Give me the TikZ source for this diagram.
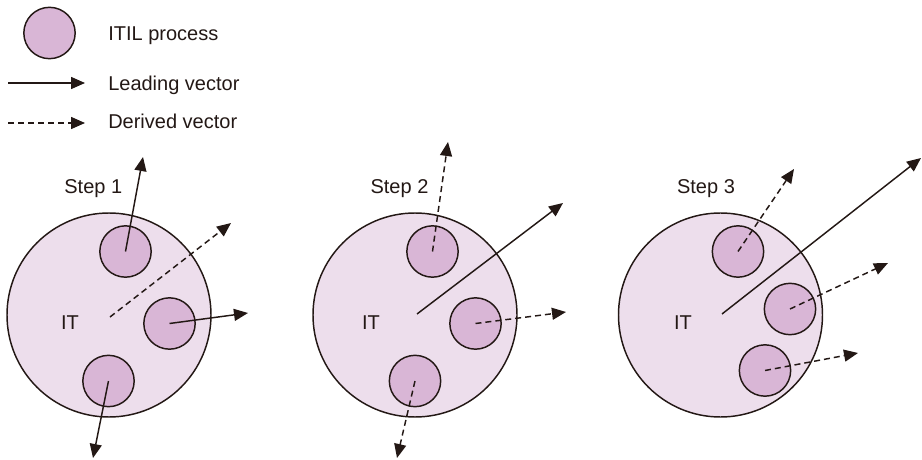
\documentclass[tikz,border=0pt]{standalone}
\usepackage{fontspec}
\setmainfont{Liberation Sans}
\usetikzlibrary{arrows.meta}
\definecolor{ink}{HTML}{231815}
\definecolor{bigfill}{HTML}{EDDEEC}
\definecolor{smallfill}{HTML}{D9B6D6}
\begin{document}
\begin{tikzpicture}[x=0.75pt,y=-0.75pt,
  lbl/.style={font=\fontsize{15}{18}\selectfont, text=ink, inner sep=0pt},
  bigc/.style={circle, draw=ink, fill=bigfill, line width=1.1pt, minimum size=153pt, inner sep=0pt},
  smallc/.style={circle, draw=ink, fill=smallfill, line width=1.1pt, minimum size=38.5pt, inner sep=0pt},
  lead/.style={draw=ink, line width=1.1pt, -{Triangle[length=10.5pt,width=9pt]}},
  derived/.style={lead, dash pattern=on 4.5pt off 3pt}
]
\useasboundingbox (0,0) rectangle (922,460);
% legend
\node[smallc] (legc) at (49.5,33) {};
\node[lbl, anchor=base west] (legt1) at (108,41) {ITIL process};
\coordinate (l1a) at (8,83); \coordinate (l1b) at (85,83);
\node[lbl, anchor=base west] (legt2) at (108,91) {Leading vector};
\coordinate (l2a) at (8,123); \coordinate (l2b) at (85,123);
\node[lbl, anchor=base west] (legt3) at (108,129) {Derived vector};
\draw[lead] (l1a) -- (l1b);
\draw[derived] (l2a) -- (l2b);

% Step 1
\node[bigc] (b1) at (109,315) {};
\node[smallc] (s1a) at (125.5,251.5) {};
\node[smallc] (s1b) at (169.5,323.5) {};
\node[smallc] (s1c) at (108.5,381) {};
\node[lbl, anchor=base] (it1) at (70,329) {IT};
\node[lbl, anchor=base] (st1) at (93.3,194) {Step 1};
\coordinate (c1) at (110,317);
\coordinate (t1a) at (143,157);
\coordinate (t1d) at (231,223);
\coordinate (t1b) at (248,313);
\coordinate (t1c) at (93,458);
\draw[lead] (s1a.center) -- (t1a);
\draw[derived] (c1) -- (t1d);
\draw[lead] (s1b.center) -- (t1b);
\draw[lead] (s1c.center) -- (t1c);

% Step 2
\node[bigc] (b2) at (415,315) {};
\node[smallc] (s2a) at (432.5,251.5) {};
\node[smallc] (s2b) at (475.5,323.5) {};
\node[smallc] (s2c) at (415,381) {};
\node[lbl, anchor=base] (it2) at (371,329) {IT};
\node[lbl, anchor=base] (st2) at (399.5,194) {Step 2};
\coordinate (c2) at (417,314);
\coordinate (t2a) at (448,142);
\coordinate (t2l) at (563,203);
\coordinate (t2b) at (566,312);
\coordinate (t2c) at (397,458);
\draw[derived] (s2a.center) -- (t2a);
\draw[lead] (c2) -- (t2l);
\draw[derived] (s2b.center) -- (t2b);
\draw[derived] (s2c.center) -- (t2c);

% Step 3
\node[bigc] (b3) at (720.5,315) {};
\node[smallc] (s3a) at (738,251.5) {};
\node[smallc] (s3b) at (790,309) {};
\node[smallc] (s3c) at (765,370.5) {};
\node[lbl, anchor=base] (it3) at (683,329) {IT};
\node[lbl, anchor=base] (st3) at (706,194) {Step 3};
\coordinate (c3) at (722,314);
\coordinate (t3a) at (794,169);
\coordinate (t3l) at (921,158);
\coordinate (t3b) at (888,263);
\coordinate (t3c) at (858,353);
\draw[derived] (s3a.center) -- (t3a);
\draw[lead] (c3) -- (t3l);
\draw[derived] (s3b.center) -- (t3b);
\draw[derived] (s3c.center) -- (t3c);
\end{tikzpicture}
\end{document}
